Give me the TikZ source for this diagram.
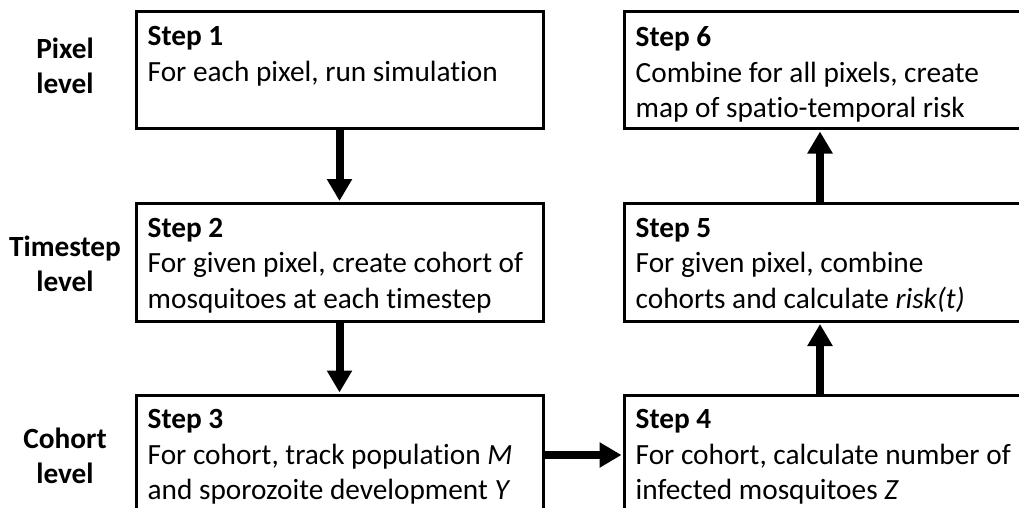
\documentclass[tikz,border=0pt]{standalone}
\usepackage{fontspec}
\setmainfont{Carlito}[Ligatures=NoCommon]
\usetikzlibrary{arrows.meta,calc}
\tikzset{
  stepbox/.style={draw=black, line width=3pt, rectangle, inner sep=0pt},
  steptext/.style={anchor=north west, inner sep=0pt, align=left, font=\fontsize{29.3}{35.5}\selectfont},
  lvl/.style={inner sep=0pt, align=center, font=\fontsize{29.3}{35}\selectfont\bfseries},
  flow/.style={line width=8pt, -{Triangle[width=24pt,length=22pt]}, shorten >=1pt}
}
\begin{document}
\begin{tikzpicture}[x=1pt,y=1pt]
\useasboundingbox (0,0) rectangle (1019,507);
\clip (0,0) rectangle (1019,507);
% boxes (image y flipped: tikz y = 507 - img y)
\node[stepbox, minimum width=407pt, minimum height=117pt] (b1) at (339.5,436.5) {};
\node[stepbox, minimum width=407pt, minimum height=118pt] (b2) at (339.5,244.5) {};
\node[stepbox, minimum width=407pt, minimum height=117pt] (b3) at (339.5,53.5) {};
\node[stepbox, minimum width=400pt, minimum height=117pt] (b6) at (824,436.5) {};
\node[stepbox, minimum width=400pt, minimum height=118pt] (b5) at (824,244.5) {};
\node[stepbox, minimum width=400pt, minimum height=117pt] (b4) at (824,53.5) {};
% texts
\node[steptext] (t1) at ($(b1.north west)+(13,-16)$) {\textbf{Step 1}\\For each pixel, run simulation};
\node[steptext] (t2) at ($(b2.north west)+(13,-16)$) {\textbf{Step 2}\\For given pixel, create cohort of\\mosquitoes at each timestep};
\node[steptext] (t3) at ($(b3.north west)+(13,-16)$) {\textbf{Step 3}\\For cohort, track population \textit{M}\\and sporozoite development \textit{Y}};
\node[steptext] (t4) at ($(b4.north west)+(13,-16)$) {\textbf{Step 4}\\For cohort, calculate number of\\infected mosquitoes \textit{Z}};
\node[steptext] (t5) at ($(b5.north west)+(13,-16)$) {\textbf{Step 5}\\For given pixel, combine\\cohorts and calculate \textit{risk(t)}};
\node[steptext] (t6) at ($(b6.north west)+(13,-16)$) {\textbf{Step 6}\\Combine for all pixels, create\\map of spatio-temporal risk};
% level labels
\node[lvl] (l1) at (65,441) {Pixel\\level};
\node[lvl] (l2) at (65,243.5) {Timestep\\level};
\node[lvl] (l3) at (65,51.5) {Cohort\\level};
% arrows
\draw[flow] (b1.south) -- (b2.north);
\draw[flow] (b2.south) -- (b3.north);
\draw[flow] (b3.east |- 0,52) -- (b4.west |- 0,52);
\draw[flow] (b4.north -| 820,0) -- (b5.south -| 820,0);
\draw[flow] (b5.north -| 820,0) -- (b6.south -| 820,0);
\end{tikzpicture}
\end{document}
